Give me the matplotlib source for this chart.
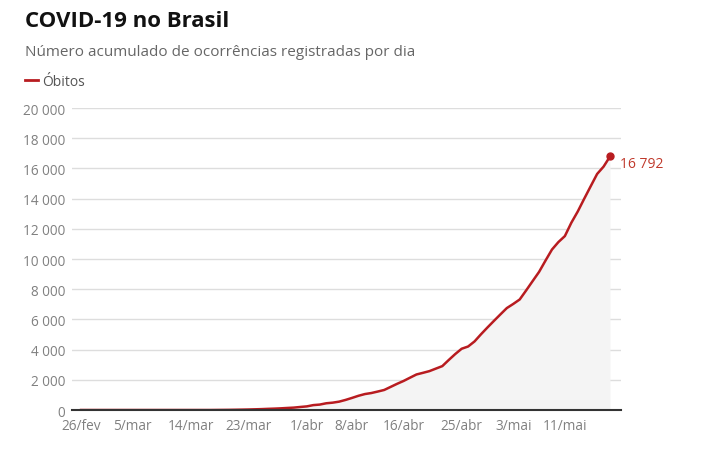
"""
COVID-19 no Brasil: óbitos acumulados por dia (26/fev a 18/mai de 2020).
"""

import pandas as pd
import matplotlib.pyplot as plt
import matplotlib.ticker as ticker

plt.rcParams["font.family"] = ["Open Sans", "DejaVu Sans"]

START_DATE = "2020-02-26"
END_DATE = "2020-05-18"

# Óbitos acumulados, um valor por dia a partir de 26/fev
DEATHS = [
    0, 0, 0, 0, 0, 0, 0, 0, 0, 0,            # 26/fev - 6/mar
    0, 0, 0, 0, 0, 0, 0, 0, 0, 0, 0,         # 7/mar - 17/mar (zeros)
    4, 7, 11, 18, 25, 34, 46, 59, 77, 92,    # 18/mar - 27/mar
    111, 136, 159, 201, 240, 324, 359, 445, 486, 553,   # 28/mar - 6/abr
    667, 800, 941, 1056, 1124, 1223, 1328, 1532, 1736, 1924,  # 7/abr - 16/abr
    2141, 2354, 2462, 2575, 2741, 2906, 3313, 3704, 4057, 4205,  # 17/abr - 26/abr
    4543, 5017, 5466, 5901, 6329, 6750, 7025, 7321, 7921, 8536,  # 27/abr - 6/mai
    9146, 9897, 10627, 11123, 11519, 12400, 13149, 13993, 14817, 15633,  # 7/mai - 16/mai
    16118, 16792,                            # 17/mai - 18/mai
]

TICK_DATES = ["2020-02-26", "2020-03-05", "2020-03-14", "2020-03-23", "2020-04-01",
              "2020-04-08", "2020-04-16", "2020-04-25", "2020-05-03", "2020-05-11"]
TICK_LABELS = ["26/fev", "5/mar", "14/mar", "23/mar", "1/abr",
               "8/abr", "16/abr", "25/abr", "3/mai", "11/mai"]
Y_TICKS = list(range(0, 20001, 2000))

LINE_COLOR = "#b81c20"


def fmt_thousands(v, _=None):
    return f"{int(v):,}".replace(",", " ")


dates = pd.date_range(START_DATE, END_DATE, freq="D")
df = pd.DataFrame({"date": dates[:len(DEATHS)], "deaths": DEATHS})

fig = plt.figure(figsize=(7.11, 4.52), dpi=100)
ax = fig.add_axes([0.1013, 0.0907, 0.7721, 0.6681])

ax.fill_between(df["date"], df["deaths"], 0, color="#f4f4f4", linewidth=0, zorder=1)
ax.plot(df["date"], df["deaths"], color=LINE_COLOR, linewidth=1.8, zorder=3,
        solid_joinstyle="round")
last = df.iloc[-1]
ax.plot([last["date"]], [last["deaths"]], "o", color=LINE_COLOR, markersize=5, zorder=4)
ax.annotate(fmt_thousands(last["deaths"]),
            (last["date"], last["deaths"]), textcoords="offset points", xytext=(7, -5),
            ha="left", va="center", fontsize=10, color="#c0392b")

ax.set_xlim(df["date"].iloc[0] - pd.Timedelta(days=1.4),
            df["date"].iloc[-1] + pd.Timedelta(days=1.7))
ax.set_ylim(0, 20000)

ax.set_xticks(pd.to_datetime(TICK_DATES))
ax.set_xticklabels(TICK_LABELS)
ax.set_yticks(Y_TICKS)
ax.yaxis.set_major_formatter(ticker.FuncFormatter(fmt_thousands))
ax.tick_params(axis="both", length=0, labelsize=9.8, labelcolor="#808080")
ax.tick_params(axis="x", pad=6)
ax.tick_params(axis="y", pad=5)

ax.grid(axis="y", color="#dddddd", linewidth=1, zorder=0)
ax.set_axisbelow(True)
for side in ["top", "right", "left"]:
    ax.spines[side].set_visible(False)
ax.spines["bottom"].set_color("#333333")
ax.spines["bottom"].set_linewidth(1.5)
ax.spines["bottom"].set_zorder(5)

fig.text(25 / 711, 1 - 27 / 452, "COVID-19 no Brasil", fontsize=16, fontweight="bold",
         color="#111111", ha="left", va="baseline")
fig.text(25 / 711, 1 - 56 / 452, "Número acumulado de ocorrências registradas por dia",
         fontsize=11, color="#666666", ha="left", va="baseline")
fig.add_artist(plt.Line2D([25 / 711, 38 / 711], [1 - 81 / 452, 1 - 81 / 452],
                          color=LINE_COLOR, linewidth=2))
fig.text(42 / 711, 1 - 86 / 452, "Óbitos", fontsize=10, color="#555555",
         ha="left", va="baseline")

fig.savefig("out.png", dpi=100)
plt.close(fig)
